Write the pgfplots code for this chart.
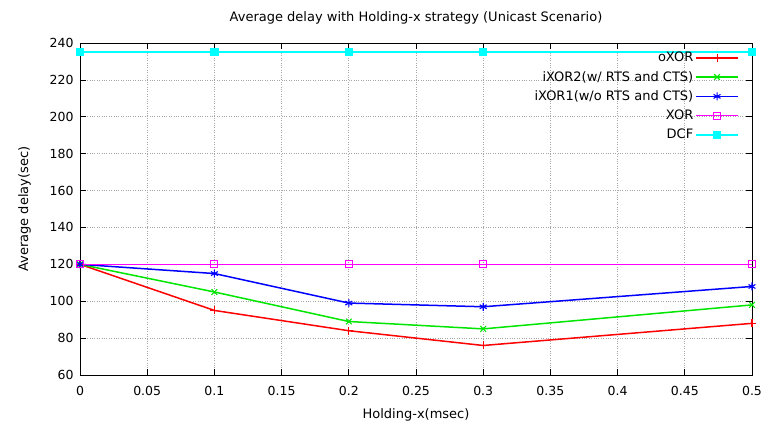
\documentclass[border=0pt]{standalone}
\usepackage{pgfplots}
\pgfplotsset{compat=1.18}
\usepackage{fontspec}
\setmainfont{DejaVu Sans}
\definecolor{gred}{RGB}{255,0,0}
\definecolor{ggreen}{RGB}{0,230,0}
\definecolor{gblue}{RGB}{0,0,255}
\definecolor{gmag}{RGB}{255,0,255}
\definecolor{gcyan}{RGB}{0,255,255}
\begin{document}
\begin{tikzpicture}
\begin{axis}[
  name=ax,
  scale only axis,
  width=672pt, height=332pt,
  xmin=0, xmax=0.5, ymin=60, ymax=240,
  xtick={0,0.05,...,0.5},
  ytick={60,80,...,240},
  /pgf/number format/assume math mode=true,
  xticklabel style={/pgf/number format/fixed,/pgf/number format/precision=2},
  xticklabel shift=8pt,
  yticklabel shift=3pt,
  scaled x ticks=false,
  tick align=inside,
  major tick length=6pt,
  grid=major,
  major grid style={gray!70, dotted, line width=0.7pt},
  axis line style={line width=0.8pt},
  tick style={black, line width=0.7pt},
  every tick label/.append style={font=\fontsize{12.5}{14}\selectfont},
  title={Average delay with Holding-x strategy (Unicast Scenario)},
  title style={font=\fontsize{13}{15}\selectfont, yshift=9pt},
  xlabel={Holding-x(msec)},
  ylabel={Average delay(sec)},
  xlabel style={font=\fontsize{13}{15}\selectfont, yshift=-6pt},
  ylabel style={font=\fontsize{13}{15}\selectfont, yshift=12pt},
  legend style={draw=none, fill=none, at={(1,1)}, anchor=north east, xshift=-10pt, yshift=-5pt,
    font=\fontsize{13}{15}\selectfont, row sep=4pt},
  legend cell align=right,
  legend plot pos=right,
  legend image code/.code={\draw[#1, mark=none, line width=1.5pt] (8pt,0pt) -- (50pt,0pt); \draw[#1] plot coordinates {(29pt,0pt)};},
  every axis plot/.append style={line width=1.5pt},
]
\addplot[color=gred, mark=+, mark size=4pt, mark options={line width=1.1pt}] coordinates {(0,120) (0.1,95) (0.2,84) (0.3,76) (0.5,88)};
\addlegendentry{oXOR}
\addplot[color=ggreen, mark=x, mark size=4pt, mark options={line width=1.1pt}] coordinates {(0,120) (0.1,105) (0.2,89) (0.3,85) (0.5,98)};
\addlegendentry{iXOR2(w/ RTS and CTS)}
\addplot[color=gblue, mark=asterisk, mark size=4pt, mark options={line width=1.1pt}] coordinates {(0,120) (0.1,115) (0.2,99) (0.3,97) (0.5,108)};
\addlegendentry{iXOR1(w/o RTS and CTS)}
\addplot[color=gmag, mark=square, mark size=3.5pt, mark options={line width=1.1pt}] coordinates {(0,120) (0.1,120) (0.2,120) (0.3,120) (0.5,120)};
\addlegendentry{XOR}
\addplot[color=gcyan, mark=square*, mark size=3.5pt] coordinates {(0,235) (0.1,235) (0.2,235) (0.3,235) (0.5,235)};
\addlegendentry{DCF}
\end{axis}
\path[use as bounding box] ([shift={(-80pt,-60pt)}]ax.south west) rectangle ([shift={(14pt,43pt)}]ax.north east);
\end{tikzpicture}
\end{document}
